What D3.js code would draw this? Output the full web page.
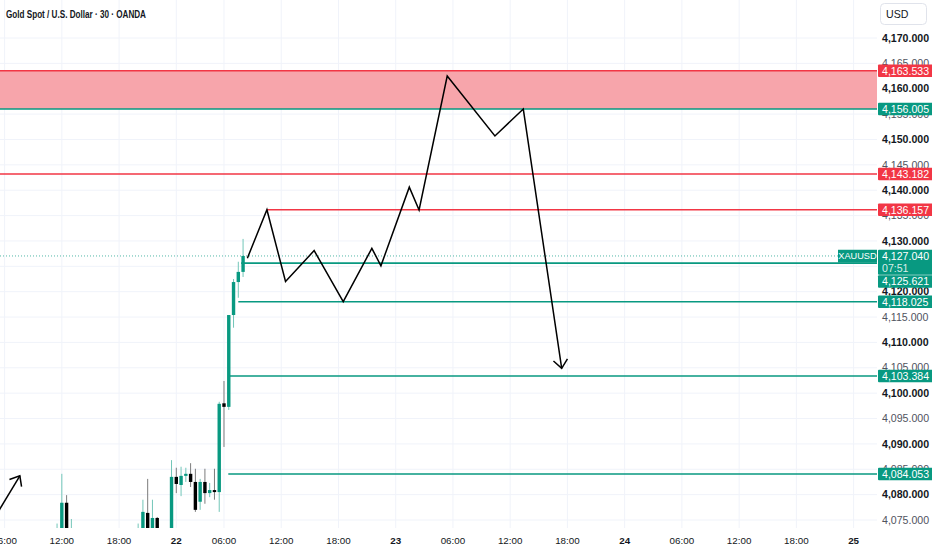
<!DOCTYPE html>
<html>
<head>
<meta charset="utf-8">
<script src="https://cdn.jsdelivr.net/npm/d3@7"></script>
<style>
body { margin: 0; background: #fff; }
svg { display: block; font-family: "Liberation Sans", Arial, sans-serif; }
</style>
</head>
<body>
<div id="chart"></div>
<script>
// 30 min bars, index 0 = first bar of the 22nd
// [bar, open, high, low, close]
var candles = [
  [-25, 4070.0, 4074.3, 4068.0, 4072.0],
  [-24, 4070.0, 4084.1, 4068.0, 4078.4],
  [-23, 4078.4, 4079.9, 4068.0, 4070.0],
  [-22, 4070.0, 4075.2, 4068.0, 4071.0],
  [-8,  4070.0, 4074.3, 4068.0, 4071.0],
  [-7,  4070.0, 4079.0, 4068.0, 4076.6],
  [-6,  4076.4, 4083.1, 4068.0, 4070.0],
  [-5,  4070.0, 4079.0, 4068.0, 4075.4],
  [-4,  4075.4, 4075.6, 4068.0, 4070.0],
  [-1,  4070.0, 4086.8, 4068.0, 4083.5],
  [0,   4083.5, 4085.3, 4080.3, 4082.1],
  [1,   4081.9, 4085.5, 4079.7, 4083.7],
  [2,   4083.7, 4085.3, 4082.5, 4084.1],
  [3,   4084.1, 4086.2, 4081.5, 4082.5],
  [4,   4082.5, 4085.1, 4076.6, 4077.0],
  [5,   4078.6, 4083.1, 4077.0, 4082.5],
  [6,   4082.5, 4085.1, 4078.2, 4080.3],
  [7,   4080.3, 4082.3, 4079.5, 4080.9],
  [8,   4080.9, 4085.1, 4079.0, 4080.5],
  [9,   4080.5, 4098.3, 4076.6, 4097.9],
  [10,  4098.0, 4102.4, 4089.4, 4097.3],
  [11,  4097.3, 4115.4, 4096.7, 4115.4],
  [12,  4115.4, 4122.5, 4112.9, 4121.9],
  [13,  4121.9, 4125.9, 4118.8, 4123.9],
  [14,  4123.9, 4130.4, 4122.9, 4127.04]
];

var lastPrice = 4127.04;
var countdown = "07:51";
var symbol = "XAUUSD";

var zoneTop = 4163.533;
var zoneBottom = 4156.005;

var redLevels = [4163.533, 4143.182, 4136.157];
var redStart = [-40, -40, 19];
var greenLevels = [4156.005, 4125.621, 4118.025, 4103.384, 4084.053];
var greenStart = [-40, 13.6, 13, 11.1, 10.9];

// projected path drawn on the chart (bar, price)
var pathBars = [14.9, 19, 22.9, 28.9, 35, 41, 42.9, 48.85, 50.9, 56.8, 66.8, 72.75, 80.8];
var pathPrices = [4126.6, 4136.157, 4122.0, 4128.1, 4118.025, 4128.55, 4125.1, 4140.6, 4136.1, 4162.5, 4150.7, 4156.0, 4104.9];
var smallArrowBars = [-38, -32.8];
var smallArrowPrices = [4075.6, 4083.7];

var timeTickBars = [-36, -24, -12, 0, 10, 22, 34, 46, 58, 70, 82, 94, 106, 118, 130, 142];
var timeTickLabels = ["06:00", "12:00", "18:00", "22", "06:00", "12:00", "18:00", "23",
                      "06:00", "12:00", "18:00", "24", "06:00", "12:00", "18:00", "25"];
var dayLabels = ["22", "23", "24", "25"];

var title = "Gold Spot / U.S. Dollar \u00b7 30 \u00b7 OANDA";

var W = 932, H = 550;
var plotR = 877, plotB = 528;
var green = "#089981", red = "#f23645";
var pfs = 10.6; // price font size

var x = d3.scaleLinear().domain([0, 142]).range([176.3, 853.6]);
var y = d3.scaleLinear().domain([4075, 4170]).range([520, 38]);
var priceTicks = d3.range(4075, 4171, 5);
var fmt = d3.format(",.3f");

var svg = d3.select("#chart").append("svg").attr("width", W).attr("height", H);
svg.append("rect").attr("width", W).attr("height", H).attr("fill", "#fff");
svg.append("defs").append("clipPath").attr("id", "plot")
  .append("rect").attr("width", plotR).attr("height", plotB);

var plot = svg.append("g").attr("clip-path", "url(#plot)");

// grid
plot.selectAll(".vg").data(timeTickBars).enter().append("line")
  .attr("x1", function(d) { return x(d); }).attr("x2", function(d) { return x(d); })
  .attr("y1", 0).attr("y2", plotB)
  .attr("stroke", "#f0f3fa");
plot.selectAll(".hg").data(priceTicks).enter().append("line")
  .attr("x1", 0).attr("x2", plotR)
  .attr("y1", function(d) { return y(d); }).attr("y2", function(d) { return y(d); })
  .attr("stroke", "#f0f3fa");

// supply zone
plot.append("rect")
  .attr("x", 0).attr("y", y(zoneTop))
  .attr("width", plotR).attr("height", y(zoneBottom) - y(zoneTop))
  .attr("fill", "#f7a5ab");

// candles
var c = plot.selectAll(".candle").data(candles).enter().append("g");
c.append("line")
  .attr("x1", function(d) { return x(d[0]); }).attr("x2", function(d) { return x(d[0]); })
  .attr("y1", function(d) { return y(d[2]); }).attr("y2", function(d) { return y(d[3]); })
  .attr("stroke", function(d) { return d[4] >= d[1] ? "#72c6b8" : "#7c7c7c"; })
  .attr("stroke-width", 1);
c.append("rect")
  .attr("x", function(d) { return x(d[0]) - 1.7; })
  .attr("width", 3.4)
  .attr("y", function(d) { return y(Math.max(d[1], d[4])); })
  .attr("height", function(d) { return Math.max(1, Math.abs(y(d[1]) - y(d[4]))); })
  .attr("fill", function(d) { return d[4] >= d[1] ? green : "#000"; });

// current price dotted line
plot.append("line")
  .attr("x1", 0).attr("x2", 839)
  .attr("y1", y(lastPrice)).attr("y2", y(lastPrice))
  .attr("stroke", green).attr("stroke-opacity", 0.7)
  .attr("stroke-dasharray", "1,2");

// horizontal levels
function levels(vals, starts, col) {
  plot.selectAll(null).data(vals).enter().append("line")
    .attr("x1", function(d, i) { return x(starts[i]); }).attr("x2", plotR)
    .attr("y1", function(d) { return y(d); }).attr("y2", function(d) { return y(d); })
    .attr("stroke", col).attr("stroke-width", 1.6);
}
levels(redLevels, redStart, red);
levels(greenLevels, greenStart, green);

// path + arrows
function arrowHead(g, x0, y0, x1, y1) {
  var a = Math.atan2(y0 - y1, x0 - x1), len = 11, spread = 40 * Math.PI / 180;
  var pts = [[x1 + len * Math.cos(a - spread), y1 + len * Math.sin(a - spread)],
             [x1, y1],
             [x1 + len * Math.cos(a + spread), y1 + len * Math.sin(a + spread)]];
  g.append("path").attr("d", d3.line()(pts))
    .attr("fill", "none").attr("stroke", "#000").attr("stroke-width", 1.5);
}

var pts = pathBars.map(function(b, i) { return [x(b), y(pathPrices[i])]; });
plot.append("path").attr("d", d3.line()(pts))
  .attr("fill", "none").attr("stroke", "#000").attr("stroke-width", 1.5)
  .attr("stroke-linejoin", "miter");
var n = pts.length;
arrowHead(plot, pts[n - 2][0], pts[n - 2][1], pts[n - 1][0], pts[n - 1][1]);

var sp = smallArrowBars.map(function(b, i) { return [x(b), y(smallArrowPrices[i])]; });
plot.append("path").attr("d", d3.line()(sp))
  .attr("fill", "none").attr("stroke", "#000").attr("stroke-width", 1.5);
arrowHead(plot, sp[0][0], sp[0][1], sp[1][0], sp[1][1]);

// title
svg.append("text").attr("x", 6).attr("y", 17.5)
  .attr("font-size", 10.4).attr("font-weight", 700).attr("fill", "#131722")
  .attr("textLength", 140).attr("lengthAdjust", "spacingAndGlyphs")
  .text(title);

// price axis
svg.selectAll(".pt").data(priceTicks).enter().append("text")
  .attr("x", 882).attr("y", function(d) { return y(d); }).attr("dy", "0.35em")
  .attr("font-size", pfs)
  .attr("font-weight", function(d) { return d % 10 === 0 ? 700 : 400; })
  .attr("fill", function(d) { return d % 10 === 0 ? "#131722" : "#50535e"; })
  .text(function(d) { return fmt(d); });

// USD box
svg.append("rect").attr("x", 880.5).attr("y", 3.5).attr("width", 46).attr("height", 21).attr("rx", 4)
  .attr("fill", "#fff").attr("stroke", "#e0e3eb");
svg.append("text").attr("x", 886).attr("y", 17.5).attr("font-size", pfs).attr("fill", "#131722").text("USD");

// price labels, pushed down when they overlap
var tags = [];
redLevels.forEach(function(v) { tags.push({v: v, col: red, h: 12.5}); });
greenLevels.forEach(function(v) { tags.push({v: v, col: green, h: 12.5}); });
tags.push({v: lastPrice, col: green, h: 25, cur: true});
tags.sort(function(a, b) { return b.v - a.v || (b.cur ? 1 : -1); });
var lastBottom = -1e9;
tags.forEach(function(t) {
  t.top = Math.max(y(t.v) - 6.2, lastBottom + 0.5);
  lastBottom = t.top + t.h;
});
var tg = svg.selectAll(".tag").data(tags).enter().append("g");
tg.append("rect").attr("x", 878).attr("y", function(d) { return d.top; })
  .attr("width", 56).attr("height", function(d) { return d.h; })
  .attr("rx", 1).attr("fill", function(d) { return d.col; });
tg.append("text").attr("x", 882).attr("y", function(d) { return d.top + 6.3; }).attr("dy", "0.35em")
  .attr("font-size", pfs).attr("fill", "#fff")
  .text(function(d) { return fmt(d.v); });
tg.filter(function(d) { return d.cur; }).append("text")
  .attr("x", 882).attr("y", function(d) { return d.top + 18.3; }).attr("dy", "0.35em")
  .attr("font-size", pfs).attr("fill", "#fff").attr("fill-opacity", 0.85)
  .text(countdown);

// symbol tag
svg.append("rect").attr("x", 838).attr("y", y(lastPrice) - 6.2).attr("width", 39).attr("height", 12.8)
  .attr("fill", green);
svg.append("text").attr("x", 857.5).attr("y", y(lastPrice) + 0.2).attr("dy", "0.35em")
  .attr("text-anchor", "middle").attr("font-size", 9.2).attr("fill", "#fff").text(symbol);

// time axis
svg.selectAll(".tt").data(timeTickBars).enter().append("text")
  .attr("x", function(d) { return x(d); }).attr("y", 541).attr("dy", "0.35em")
  .attr("text-anchor", "middle").attr("font-size", 9.8)
  .attr("font-weight", function(d, i) { return dayLabels.indexOf(timeTickLabels[i]) >= 0 ? 700 : 400; })
  .attr("fill", "#131722")
  .text(function(d, i) { return timeTickLabels[i]; });
</script>
</body>
</html>
